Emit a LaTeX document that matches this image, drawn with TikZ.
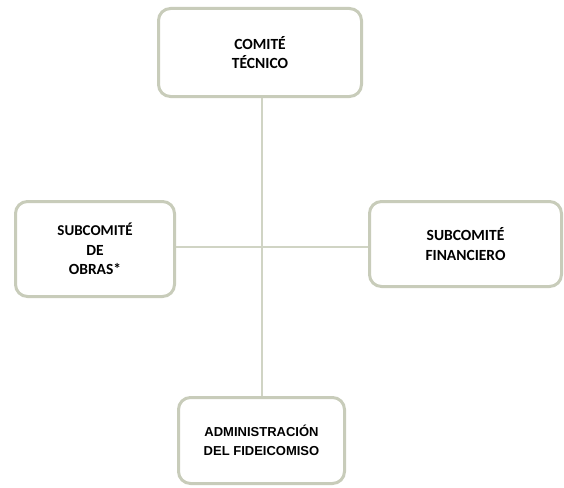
\documentclass[tikz,border=0pt]{standalone}
\usepackage{fontspec}
\setmainfont{Carlito}
\newfontfamily\arialfont{Liberation Sans}
\usetikzlibrary{positioning}
\definecolor{marco}{RGB}{200,204,186}
\definecolor{enlace}{RGB}{208,212,196}

\begin{document}
\begin{tikzpicture}[
  x=1pt,y=-1pt,
  caja/.style={draw=marco,line width=3pt,rounded corners=12pt,fill=white,
               align=center,inner sep=0pt,font=\fontsize{15.5}{19.5}\selectfont\bfseries},
  link/.style={draw=enlace,line width=2pt},
]
\useasboundingbox[fill=white] (0,0) rectangle (564,487);

%% =====================================================
%%  Boxes
%% =====================================================
\node[caja,minimum width=203pt,minimum height=88pt] (tecnico) at (260,52.5)
      {COMITÉ\\TÉCNICO};
\node[caja,minimum width=159pt,minimum height=95pt] (obras) at (95,249)
      {\fontsize{15}{18.5}\selectfont SUBCOMITÉ\\DE\\OBRAS*};
\node[caja,minimum width=192pt,minimum height=85pt] (financiero) at (465.5,244)
      {SUBCOMITÉ\\FINANCIERO};
\node[caja,minimum width=166pt,minimum height=86pt,
      font=\arialfont\fontsize{13}{19}\selectfont\bfseries] (admin) at (261.5,440.5)
      {ADMINISTRACIÓN\\DEL FIDEICOMISO};

%% =====================================================
%%  Connectors
%% =====================================================
\coordinate (cruce) at (262,247);
\draw[link] (tecnico.south -| cruce) -- (admin.north -| cruce);
\draw[link] (obras.east |- cruce) -- (financiero.west |- cruce);

\end{tikzpicture}
\end{document}
